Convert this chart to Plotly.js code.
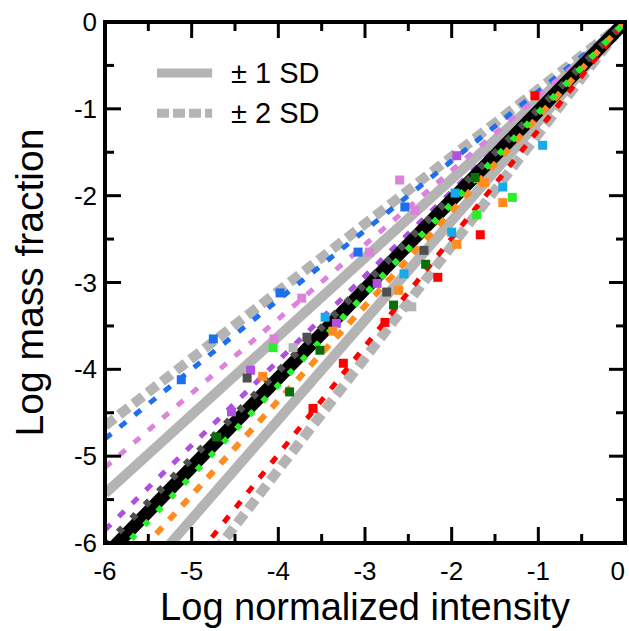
<!DOCTYPE html>
<html>
<head>
<meta charset="utf-8">
<script src="https://cdn.plot.ly/plotly-3.0.1.min.js"></script>
<style>html,body{margin:0;padding:0;background:#fff;}#chart{width:629px;height:631px;}</style>
</head>
<body>
<div id="chart"></div>
<script>
// ---- data ----
var lineX = [-6, 0];
var sd2UpperY = [-4.65, 0];
var sd2LowerY = [-7.74, 0];
var sd1UpperY = [-5.43, 0];
var sd1LowerY = [-6.87, 0];
var blueLineY = [-4.80, 0];
var pinkLineY = [-5.13, 0];
var purpleLineY = [-5.85, 0];
var blackLineY = [-6.15, 0];
var darkGreyLineY = [-6.03, 0];
var orangeLineY = [-6.54, 0];
var redLineY = [-7.47, 0];
var greenLineY = [-6.27, 0];

var blueSqX = [-2.54, -3.08, -3.98, -4.75, -5.12];
var blueSqY = [-2.13, -2.65, -3.12, -3.65, -4.12];
var pinkSqX = [-2.60, -2.42, -2.95, -3.73, -4.05];
var pinkSqY = [-1.82, -2.17, -2.65, -3.18, -3.65];
var purpleSqX = [-1.94, -2.86, -3.33, -4.32, -4.54];
var purpleSqY = [-1.54, -3.01, -3.47, -4.01, -4.49];
var greenSqX = [-1.30, -1.71, -4.06];
var greenSqY = [-2.02, -2.22, -3.75];
var darkGreenSqX = [-1.73, -2.30, -2.67, -3.52, -3.87, -4.71];
var darkGreenSqY = [-1.79, -2.79, -3.26, -3.78, -4.26, -4.78];
var orangeSqX = [-1.62, -1.41, -1.94, -2.61, -3.37, -4.18];
var orangeSqY = [-1.85, -2.08, -2.56, -3.09, -3.56, -4.08];
var cyanSqX = [-0.95, -1.96, -1.41, -2.00, -2.55, -3.46];
var cyanSqY = [-1.42, -1.97, -1.90, -2.42, -2.90, -3.40];
var redSqX = [-1.04, -1.67, -2.16, -2.77, -3.25, -3.60];
var redSqY = [-0.85, -2.45, -2.94, -3.46, -3.93, -4.45];
var darkGreySqX = [-2.32, -2.75, -3.67, -4.36];
var darkGreySqY = [-2.63, -3.11, -3.63, -4.10];
var lightGreySqX = [-2.46, -3.83];
var lightGreySqY = [-3.28, -3.75];

var tickVals = [-6, -5, -4, -3, -2, -1, 0];
var minorTickVals = [-5.5, -4.5, -3.5, -2.5, -1.5, -0.5];
var xTickText = ['-6', '-5', '-4', '-3', '-2', '-1', '0\u00a0\u00a0'];
var yTickText = ['-6', '-5', '-4', '-3', '-2', '-1', '0'];
var legendLabels = ['\u00b1 1 SD', '\u00b1 2 SD'];

// ---- styles ----
var GREY = 'rgb(180,180,180)';
var FONT = 'Liberation Sans, Arial, Helvetica, sans-serif';

function ln(y, color, width, dash) {
  return {x: lineX, y: y, mode: 'lines', type: 'scatter', hoverinfo: 'skip',
          showlegend: false, line: {color: color, width: width, dash: dash}};
}
function sq(x, y, color) {
  return {x: x, y: y, mode: 'markers', type: 'scatter', showlegend: false,
          marker: {symbol: 'square', size: 9, color: color}};
}

var traces = [
  ln(sd2UpperY, GREY, 10, '12px,6px'),
  ln(sd2LowerY, GREY, 10, '12px,6px'),
  ln(sd1UpperY, GREY, 10, 'solid'),
  ln(sd1LowerY, GREY, 10, 'solid'),
  ln(blueLineY, 'rgb(30,110,240)', 5, '8px,11px'),
  ln(pinkLineY, 'rgb(220,130,220)', 5, '8px,11px'),
  ln(purpleLineY, 'rgb(175,80,225)', 5, '8px,11px'),
  ln(blackLineY, 'black', 13, 'solid'),
  ln(darkGreyLineY, 'rgb(80,80,80)', 7, '6px,13px'),
  ln(orangeLineY, 'rgb(255,140,30)', 6, '9px,10px'),
  ln(redLineY, 'rgb(255,0,0)', 5, '8px,11px'),
  ln(greenLineY, 'rgb(40,240,40)', 6, '6px,13px'),
  sq(lightGreySqX, lightGreySqY, GREY),
  sq(blueSqX, blueSqY, 'rgb(30,110,240)'),
  sq(pinkSqX, pinkSqY, 'rgb(220,130,220)'),
  sq(purpleSqX, purpleSqY, 'rgb(175,80,225)'),
  sq(greenSqX, greenSqY, 'rgb(40,240,40)'),
  sq(darkGreenSqX, darkGreenSqY, 'rgb(10,110,10)'),
  sq(orangeSqX, orangeSqY, 'rgb(255,140,30)'),
  sq(cyanSqX, cyanSqY, 'rgb(20,170,235)'),
  sq(redSqX, redSqY, 'rgb(255,0,0)'),
  sq(darkGreySqX, darkGreySqY, 'rgb(80,80,80)')
];

// frame and tick marks drawn as shapes, positioned by the axes' own scales
var shapes = [
  {type: 'rect', xref: 'paper', yref: 'paper', x0: 0, x1: 1, y0: 0, y1: 1,
   line: {color: 'black', width: 4}, fillcolor: 'rgba(0,0,0,0)', layer: 'above'}
];
function addTicks(vals, len) {
  vals.forEach(function (v) {
    var tl = {color: 'black', width: 3};
    shapes.push({type: 'line', xref: 'x', yref: 'paper', ysizemode: 'pixel', yanchor: 0,
                 x0: v, x1: v, y0: 0, y1: len, line: tl});
    shapes.push({type: 'line', xref: 'x', yref: 'paper', ysizemode: 'pixel', yanchor: 1,
                 x0: v, x1: v, y0: 0, y1: -len, line: tl});
    shapes.push({type: 'line', xref: 'paper', yref: 'y', xsizemode: 'pixel', xanchor: 0,
                 y0: v, y1: v, x0: 0, x1: len, line: tl});
    shapes.push({type: 'line', xref: 'paper', yref: 'y', xsizemode: 'pixel', xanchor: 1,
                 y0: v, y1: v, x0: 0, x1: -len, line: tl});
  });
}
addTicks(tickVals, 16);
addTicks(minorTickVals, 9);
// legend samples
shapes.push({type: 'line', xref: 'paper', yref: 'paper', x0: 0.100, x1: 0.206, y0: 0.902, y1: 0.902,
             line: {color: GREY, width: 9}});
shapes.push({type: 'line', xref: 'paper', yref: 'paper', x0: 0.100, x1: 0.206, y0: 0.825, y1: 0.825,
             line: {color: GREY, width: 9, dash: '12px,4px'}});

var layout = {
  width: 629, height: 631,
  margin: {l: 105, r: 4, t: 22, b: 88},
  showlegend: false,
  xaxis: {
    range: [-6, 0], tickmode: 'array', tickvals: tickVals, ticktext: xTickText,
    showgrid: false, zeroline: false, showline: false, ticks: 'inside', ticklen: 16,
    tickcolor: 'rgba(0,0,0,0)', ticklabeloverflow: 'allow', ticklabelstandoff: 10,
    tickfont: {family: FONT, size: 26, color: 'black'},
    title: {text: 'Log normalized intensity', font: {family: FONT, size: 38, color: 'black'}, standoff: 8}
  },
  yaxis: {
    range: [-6, 0], tickmode: 'array', tickvals: tickVals, ticktext: yTickText,
    showgrid: false, zeroline: false, showline: false, ticks: 'inside', ticklen: 16,
    tickcolor: 'rgba(0,0,0,0)', ticklabeloverflow: 'allow', ticklabelstandoff: 7,
    tickfont: {family: FONT, size: 26, color: 'black'},
    title: {text: 'Log mass fraction', font: {family: FONT, size: 39, color: 'black'}, standoff: 18}
  },
  shapes: shapes,
  annotations: [
    {xref: 'paper', yref: 'paper', x: 0.238, y: 0.902, xanchor: 'left', yanchor: 'middle',
     text: legendLabels[0], showarrow: false, font: {family: FONT, size: 29, color: 'black'}},
    {xref: 'paper', yref: 'paper', x: 0.238, y: 0.825, xanchor: 'left', yanchor: 'middle',
     text: legendLabels[1], showarrow: false, font: {family: FONT, size: 29, color: 'black'}}
  ]
};

Plotly.newPlot('chart', traces, layout, {displayModeBar: false});
</script>
</body>
</html>
